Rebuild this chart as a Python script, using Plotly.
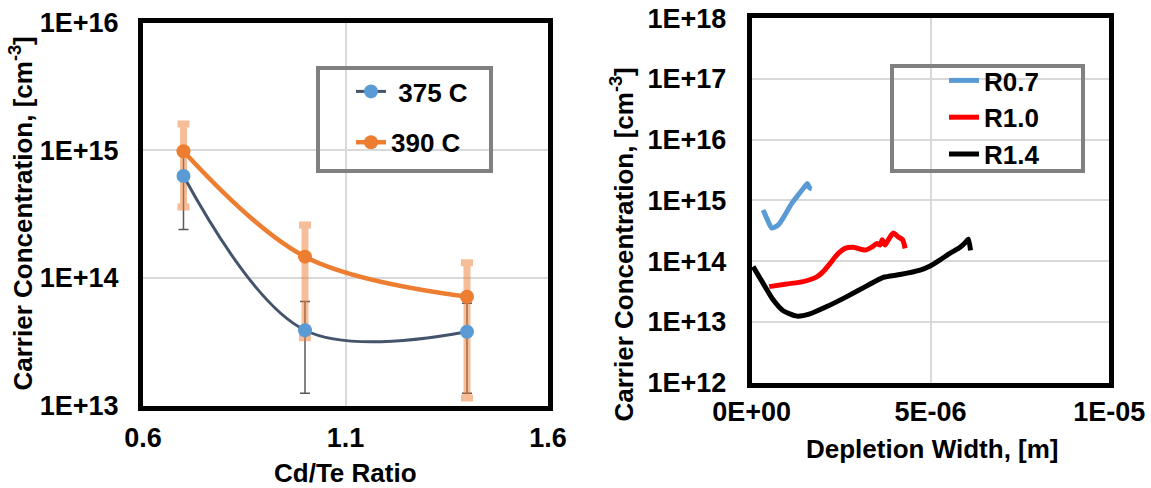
import plotly.graph_objects as go

W, H = 1151, 488


def px(x):
    return x / W


def py(y):
    return 1 - y / H


# ---------------- Data: left panel ----------------
ratio = [0.7, 1.0, 1.4]
conc_375 = [6.3e14, 3.9e13, 3.8e13]
err_375 = [3.9e14, 2.65e13, 2.55e13]
conc_390 = [9.85e14, 1.47e14, 7.15e13]
err_390 = [6.25e14, 1.13e14, 6.0e13]

left_xticks = [0.6, 1.1, 1.6]
left_xticktext = ["0.6", "1.1", "1.6"]
left_yticks = [1e13, 1e14, 1e15, 1e16]
left_yticktext = ["1E+13", "1E+14", "1E+15", "1E+16"]

# ---------------- Data: right panel ----------------
r07_x = [0.32e-6, 0.42e-6, 0.56e-6, 0.745e-6, 0.93e-6, 1.12e-6, 1.30e-6, 1.49e-6, 1.555e-6, 1.62e-6, 1.68e-6]
r07_y = [6.95e14, 5.1e14, 3.5e14, 3.95e14, 5.75e14, 8.9e14, 1.23e15, 1.7e15, 1.9e15, 1.6e15, 1.55e15]

r10_x = [0.49e-6, 0.98e-6, 1.44e-6, 1.82e-6, 2.0e-6, 2.19e-6, 2.38e-6, 2.61e-6, 2.84e-6, 3.17e-6,
         3.36e-6, 3.50e-6, 3.59e-6, 3.65e-6, 3.73e-6, 3.82e-6, 3.91e-6, 3.96e-6, 4.10e-6, 4.22e-6, 4.29e-6]
r10_y = [3.8e13, 4.2e13, 4.6e13, 5.5e13, 6.7e13, 9.1e13, 1.26e14, 1.62e14, 1.69e14, 1.52e14,
         1.70e14, 1.95e14, 1.84e14, 2.24e14, 1.84e14, 2.24e14, 2.7e14, 2.9e14, 2.5e14, 2.24e14, 1.62e14]

r14_x = [0.04e-6, 0.32e-6, 0.60e-6, 0.88e-6, 1.26e-6, 1.63e-6, 2.10e-6, 2.66e-6, 3.22e-6, 3.68e-6,
         4.15e-6, 4.71e-6, 4.99e-6, 5.27e-6, 5.55e-6, 5.83e-6, 6.0e-6, 6.06e-6, 6.12e-6]
r14_y = [8.1e13, 4.3e13, 2.3e13, 1.52e13, 1.24e13, 1.35e13, 1.78e13, 2.6e13, 3.9e13, 5.4e13,
         6.0e13, 7.1e13, 8.3e13, 1.05e14, 1.35e14, 1.69e14, 2.1e14, 2.3e14, 1.5e14]

right_xticks = [0, 5e-6, 1e-5]
right_xticktext = ["0E+00", "5E-06", "1E-05"]
right_yticks = [1e12, 1e13, 1e14, 1e15, 1e16, 1e17, 1e18]
right_yticktext = ["1E+12", "1E+13", "1E+14", "1E+15", "1E+16", "1E+17", "1E+18"]

FONT = "Liberation Sans, Arial, sans-serif"
tickfont = dict(family=FONT, size=27, color="black", weight="bold")

fig = go.Figure()

# error bars (drawn first, under the lines/markers)
fig.add_trace(go.Scatter(
    x=ratio, y=conc_375, mode="markers", marker=dict(size=2, opacity=0),
    error_y=dict(type="data", array=err_375, color="#595959", thickness=1.5, width=5),
    showlegend=False, hoverinfo="skip", xaxis="x", yaxis="y"))
fig.add_trace(go.Scatter(
    x=ratio, y=conc_390, mode="markers", marker=dict(size=2, opacity=0),
    error_y=dict(type="data", array=err_390, color="rgba(237,125,49,0.5)", thickness=7, width=6),
    showlegend=False, hoverinfo="skip", xaxis="x", yaxis="y"))

fig.add_trace(go.Scatter(
    x=ratio, y=conc_375, mode="lines+markers", name="\u00a0375 C",
    line=dict(color="#44546A", width=3, shape="spline", smoothing=1),
    marker=dict(color="#5B9BD5", size=14),
    legend="legend", legendgroup="a", xaxis="x", yaxis="y"))
fig.add_trace(go.Scatter(
    x=ratio, y=conc_390, mode="lines+markers", name="390 C",
    line=dict(color="#ED7D31", width=4.5, shape="spline", smoothing=1),
    marker=dict(color="#ED7D31", size=14),
    legend="legend", legendgroup="b", xaxis="x", yaxis="y"))

fig.add_trace(go.Scatter(
    x=r07_x, y=r07_y, mode="lines", name="R0.7",
    line=dict(color="#5B9BD5", width=5, shape="spline", smoothing=0.6),
    legend="legend2", xaxis="x2", yaxis="y2"))
fig.add_trace(go.Scatter(
    x=r10_x, y=r10_y, mode="lines", name="R1.0",
    line=dict(color="#FF0000", width=5, shape="spline", smoothing=0.6),
    legend="legend2", xaxis="x2", yaxis="y2"))
fig.add_trace(go.Scatter(
    x=r14_x, y=r14_y, mode="lines", name="R1.4",
    line=dict(color="#000000", width=5, shape="spline", smoothing=0.6),
    legend="legend2", xaxis="x2", yaxis="y2"))

axis_common = dict(
    showgrid=True, gridcolor="#D9D9D9", gridwidth=2,
    showline=True, linecolor="black", linewidth=5, mirror=True,
    zeroline=False, ticks="", tickfont=tickfont, automargin=False,
)

fig.update_layout(
    width=W, height=H,
    margin=dict(l=0, r=0, t=0, b=0),
    paper_bgcolor="white", plot_bgcolor="white",
    xaxis=dict(domain=[px(143), px(548)], range=[0.6, 1.6], tickvals=left_xticks,
               ticktext=left_xticktext, anchor="y", ticklabelstandoff=4, **axis_common),
    yaxis=dict(domain=[py(405.7), py(22.7)], type="log", range=[13, 16], tickvals=left_yticks,
               ticktext=left_yticktext, anchor="x", ticklabelstandoff=14, **axis_common),
    xaxis2=dict(domain=[px(751.7), px(1109.3)], range=[0, 1e-5], tickvals=right_xticks,
                ticktext=right_xticktext, anchor="y2", ticklabelstandoff=1, **axis_common),
    yaxis2=dict(domain=[py(382.5), py(18.3)], type="log", range=[12, 18], tickvals=right_yticks,
                ticktext=right_yticktext, anchor="x2", ticklabelstandoff=15, **axis_common),
    legend=dict(x=px(351), y=py(68), xanchor="left", yanchor="top",
                bgcolor="rgba(0,0,0,0)", borderwidth=0,
                font=dict(family=FONT, size=26, color="black", weight="bold"),
                traceorder="grouped", tracegroupgap=14),
    legend2=dict(x=px(944), y=py(57), xanchor="left", yanchor="top",
                 bgcolor="rgba(0,0,0,0)", borderwidth=0,
                 font=dict(family=FONT, size=26, color="black", weight="bold")),
    shapes=[
        dict(type="rect", xref="paper", yref="paper", x0=px(318), x1=px(491), y0=py(171), y1=py(68),
             line=dict(color="#808080", width=4), fillcolor="rgba(0,0,0,0)", layer="above"),
        dict(type="rect", xref="paper", yref="paper", x0=px(892), x1=px(1083), y0=py(171), y1=py(66),
             line=dict(color="#808080", width=4), fillcolor="rgba(0,0,0,0)", layer="above"),
    ],
    annotations=[
        dict(text="Carrier Concentration, [cm<sup>-3</sup>]", x=px(22), y=py(213.5), xref="paper", yref="paper",
             textangle=-90, showarrow=False, xanchor="center", yanchor="middle",
             font=dict(family=FONT, size=26, color="black", weight="bold")),
        dict(text="Cd/Te Ratio", x=px(345.5), y=py(473), xref="paper", yref="paper",
             showarrow=False, xanchor="center", yanchor="middle",
             font=dict(family=FONT, size=26, color="black", weight="bold")),
        dict(text="Carrier Concentration, [cm<sup>-3</sup>]", x=px(622.5), y=py(245), xref="paper", yref="paper",
             textangle=-90, showarrow=False, xanchor="center", yanchor="middle",
             font=dict(family=FONT, size=26, color="black", weight="bold")),
        dict(text="Depletion Width, [m]", x=px(932), y=py(449), xref="paper", yref="paper",
             showarrow=False, xanchor="center", yanchor="middle",
             font=dict(family=FONT, size=26, color="black", weight="bold")),
    ],
)

fig.write_html(
    "out.html",
    config={"displayModeBar": False},
    post_script="document.body.style.margin='0px';document.body.style.overflow='hidden';",
)
